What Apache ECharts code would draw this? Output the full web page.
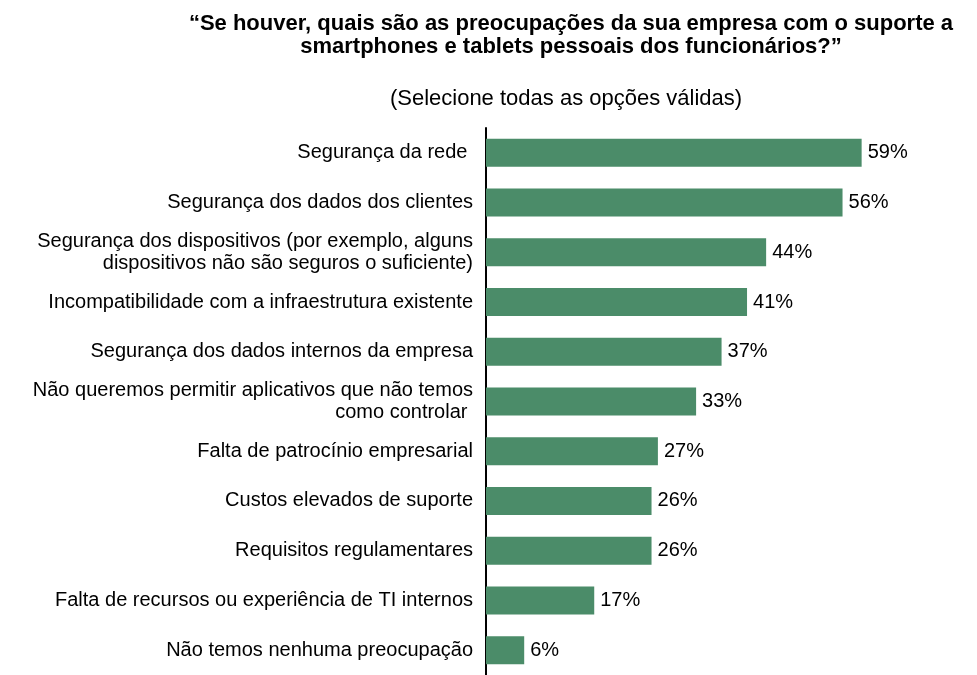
<!DOCTYPE html>
<html>
<head>
<meta charset="utf-8">
<script src="https://cdn.jsdelivr.net/npm/echarts@6/dist/echarts.min.js"></script>
<style>
  html, body { margin: 0; padding: 0; background: #fff; }
  #chart { width: 977px; height: 675px; }
</style>
</head>
<body>
<div id="chart"></div>
<script>
// categories, top to bottom
const categories = [
  'Segurança da rede ',
  'Segurança dos dados dos clientes',
  'Segurança dos dispositivos (por exemplo, alguns\ndispositivos não são seguros o suficiente)',
  'Incompatibilidade com a infraestrutura existente',
  'Segurança dos dados internos da empresa',
  'Não queremos permitir aplicativos que não temos\ncomo controlar ',
  'Falta de patrocínio empresarial',
  'Custos elevados de suporte',
  'Requisitos regulamentares',
  'Falta de recursos ou experiência de TI internos',
  'Não temos nenhuma preocupação'
]
const values = [59, 56, 44, 41, 37, 33, 27, 26, 26, 17, 6]

const titleText = '“Se houver, quais são as preocupações da sua empresa com o suporte a\nsmartphones e tablets pessoais dos funcionários?”'
const subtitleText = '(Selecione todas as opções válidas)'

const font = 'Liberation Sans, Arial, sans-serif'
const chart = echarts.init(document.getElementById('chart'))

const option = {
  animation: false,
  title: [
    {
      text: titleText,
      left: 566,
      top: 7,
      textAlign: 'center',
      textStyle: {
        fontFamily: font,
        fontSize: 22,
        fontWeight: 'bold',
        color: '#000',
        lineHeight: 23,
        align: 'center'
      }
    },
    {
      text: subtitleText,
      left: 561,
      top: 83,
      textAlign: 'center',
      textStyle: {
        fontFamily: font,
        fontSize: 22,
        fontWeight: 'normal',
        color: '#000'
      }
    }
  ],
  grid: {
    left: 486,
    top: 128,
    width: 382,
    height: 550
  },
  xAxis: {
    type: 'value',
    min: 0,
    max: 60,
    show: false
  },
  yAxis: {
    type: 'category',
    inverse: true,
    data: categories,
    axisLine: { show: true, lineStyle: { color: '#000', width: 2 } },
    axisTick: { show: false },
    axisLabel: {
      margin: 13,
      fontFamily: font,
      fontSize: 20,
      color: '#000',
      lineHeight: 22,
      align: 'right'
    }
  },
  series: [
    {
      type: 'bar',
      data: values,
      barWidth: 28,
      itemStyle: { color: '#4b8c69' },
      label: {
        show: true,
        position: 'right',
        distance: 6,
        formatter: '{c}%',
        fontFamily: font,
        fontSize: 20,
        color: '#000'
      }
    }
  ]
}
chart.setOption(option)
</script>
</body>
</html>
